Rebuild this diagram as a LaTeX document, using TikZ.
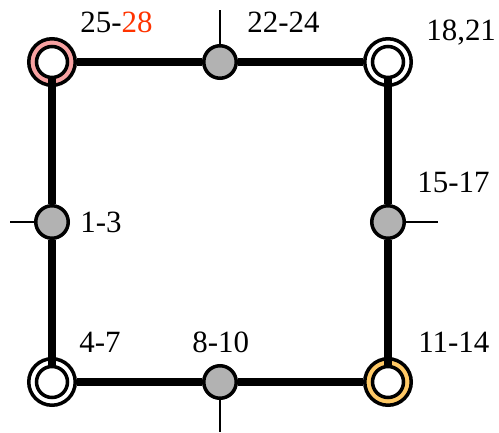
\documentclass[tikz,border=0pt]{standalone}
\usepackage{fontspec}
\setmainfont{Liberation Serif}
\usepackage{xcolor}
\usetikzlibrary{positioning}

\definecolor{ringpink}{HTML}{F7A1A1}
\definecolor{ringgold}{HTML}{FFC966}
\definecolor{numred}{HTML}{FF3300}

\begin{document}
\begin{tikzpicture}[
  x=0.02cm, y=0.02cm,
  ring/.style={draw, circle, line width=2pt, minimum size=0.93cm, inner sep=0pt},
  hole/.style={draw, circle, fill=white, line width=2pt, minimum size=0.62cm, inner sep=0pt},
  junc/.style={draw, circle, fill=gray!60, line width=2pt, minimum size=0.65cm, inner sep=0pt},
  wire/.style={line width=4.2pt},
  tick/.style={line width=1.4pt},
  lbl/.style={anchor=base west, inner sep=0pt, font=\fontsize{17.6}{20}\selectfont}
]
  \useasboundingbox (0,0) rectangle (499,432);

  % corner rings
  \node[ring, fill=ringpink] (tl) at (52,370) {};
  \node[ring, fill=white] (tr) at (388,370) {};
  \node[ring, fill=white] (bl) at (52,50) {};
  \node[ring, fill=ringgold] (br) at (388,50) {};
  \node[hole] (tlin) at (tl) {};
  \node[hole] (trin) at (tr) {};
  \node[hole] (blin) at (bl) {};
  \node[hole] (brin) at (br) {};

  % junctions on the sides
  \node[junc] (top) at (220,370) {};
  \node[junc] (left) at (52,210) {};
  \node[junc] (right) at (388,210) {};
  \node[junc] (bot) at (220,50) {};

  % loose ends
  \coordinate (topend) at (220,422);
  \coordinate (leftend) at (10,210);
  \coordinate (rightend) at (438,210);
  \coordinate (botend) at (220,0);

  % wires
  \draw[wire] (tl) -- (top);
  \draw[wire] (top) -- (tr);
  \draw[wire] (bl) -- (bot);
  \draw[wire] (bot) -- (br);
  \draw[wire] (tlin) -- (left);
  \draw[wire] (left) -- (blin);
  \draw[wire] (trin) -- (right);
  \draw[wire] (right) -- (brin);

  \draw[tick] (top) -- (topend);
  \draw[tick] (left) -- (leftend);
  \draw[tick] (right) -- (rightend);
  \draw[tick] (bot) -- (botend);

  % labels
  \node[lbl] (ltl) at (80,399) {25-\textcolor{numred}{28}};
  \node[lbl] (ltop) at (247,399) {22-24};
  \node[lbl] (ltr) at (426,391) {18,21};
  \node[lbl] (lright) at (417,239) {15-17};
  \node[lbl] (lleft) at (80,199) {1-3};
  \node[lbl] (lbl) at (79,79) {4-7};
  \node[lbl] (lbot) at (192,80) {8-10};
  \node[lbl] (lbr) at (418,79) {11-14};
\end{tikzpicture}
\end{document}
